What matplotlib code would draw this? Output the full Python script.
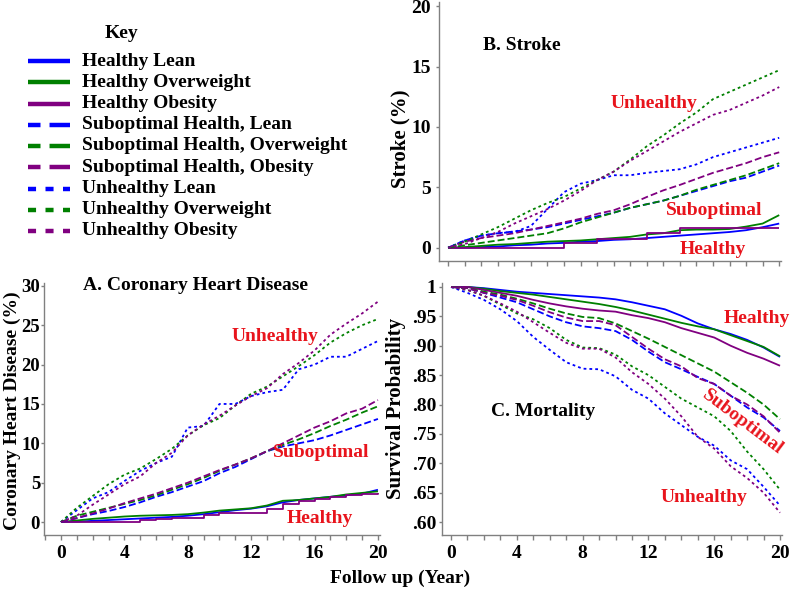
import matplotlib.pyplot as plt
from matplotlib.lines import Line2D
from matplotlib.ticker import MultipleLocator

plt.rcParams['font.family'] = ['Liberation Serif', 'DejaVu Serif']
plt.rcParams['font.weight'] = 'bold'
plt.rcParams['lines.scale_dashes'] = False

years = list(range(21))

labels = ['Healthy Lean', 'Healthy Overweight', 'Healthy Obesity',
          'Suboptimal Health, Lean', 'Suboptimal Health, Overweight', 'Suboptimal Health, Obesity',
          'Unhealthy Lean', 'Unhealthy Overweight', 'Unhealthy Obesity']
colors = ['#0000ff', '#008000', '#800080'] * 3

# A. coronary heart disease (%)
chd_healthy_lean = [0, 0.05, 0.15, 0.25, 0.35, 0.45, 0.55, 0.65, 0.8, 1.0, 1.25, 1.5, 1.7, 2.0, 2.5, 2.8, 3.0, 3.2, 3.4, 3.6, 4.1]
chd_healthy_over = [0, 0.2, 0.4, 0.55, 0.7, 0.8, 0.85, 0.9, 1.0, 1.2, 1.45, 1.6, 1.75, 2.1, 2.7, 2.8, 3.0, 3.2, 3.5, 3.7, 3.9]
chd_healthy_obes = [0, 0, 0, 0, 0, 0.2, 0.35, 0.5, 0.5, 0.85, 1.2, 1.2, 1.2, 1.6, 2.3, 2.7, 2.9, 3.2, 3.4, 3.6, 3.7]
chd_sub_lean = [0, 0.5, 1.0, 1.4, 1.9, 2.5, 3.2, 3.8, 4.5, 5.2, 6.2, 7.0, 8.0, 9.0, 9.6, 10.0, 10.4, 11.0, 11.7, 12.4, 13.1]
chd_sub_over = [0, 0.8, 1.3, 1.8, 2.3, 2.8, 3.4, 4.1, 4.8, 5.6, 6.5, 7.3, 8.1, 9.0, 9.8, 10.5, 11.3, 12.2, 13.0, 13.9, 14.7]
chd_sub_obes = [0, 0.5, 1.1, 1.7, 2.4, 3.0, 3.6, 4.3, 5.0, 5.8, 6.6, 7.3, 8.1, 9.0, 10.0, 11.0, 12.0, 12.8, 13.8, 14.4, 15.5]
chd_unh_lean = [0, 1.5, 3.0, 3.8, 5.2, 6.5, 7.5, 8.3, 12.0, 12.2, 15.0, 15.0, 16.0, 16.5, 16.8, 19.4, 20.0, 21.0, 21.0, 22.0, 23.0]
chd_unh_over = [0, 1.8, 3.3, 4.8, 6.0, 6.8, 8.0, 9.3, 11.0, 12.3, 13.2, 14.8, 16.3, 17.2, 18.5, 19.8, 21.2, 22.8, 24.0, 25.0, 25.8]
chd_unh_obes = [0, 0.8, 2.2, 3.5, 4.8, 5.8, 7.5, 8.8, 11.0, 12.4, 13.5, 14.8, 16.0, 17.0, 18.8, 20.2, 21.8, 23.8, 25.2, 26.5, 28.0]

# B. stroke (%)
stroke_healthy_lean = [0, 0, 0.05, 0.1, 0.2, 0.25, 0.35, 0.4, 0.5, 0.55, 0.65, 0.7, 0.8, 0.9, 1.0, 1.1, 1.2, 1.3, 1.45, 1.7, 2.0]
stroke_healthy_over = [0, 0.05, 0.15, 0.25, 0.3, 0.4, 0.5, 0.55, 0.6, 0.7, 0.8, 0.9, 1.1, 1.2, 1.45, 1.5, 1.5, 1.55, 1.75, 2.0, 2.7]
stroke_healthy_obes = [0, 0, 0, 0, 0, 0, 0, 0.4, 0.4, 0.75, 0.75, 0.75, 1.2, 1.2, 1.6, 1.6, 1.6, 1.6, 1.6, 1.6, 1.6]
stroke_sub_lean = [0, 0.6, 1.0, 1.2, 1.35, 1.5, 1.7, 2.0, 2.3, 2.6, 2.9, 3.3, 3.6, 3.9, 4.3, 4.7, 5.1, 5.5, 5.8, 6.3, 6.8]
stroke_sub_over = [0, 0.2, 0.4, 0.6, 0.8, 1.0, 1.2, 1.6, 2.1, 2.5, 2.9, 3.3, 3.6, 3.9, 4.3, 4.8, 5.2, 5.6, 6.0, 6.5, 7.0]
stroke_sub_obes = [0, 0.5, 0.8, 1.0, 1.2, 1.5, 1.8, 2.1, 2.4, 2.8, 3.1, 3.6, 4.2, 4.75, 5.2, 5.7, 6.2, 6.6, 7.0, 7.5, 7.9]
stroke_unh_lean = [0, 0.6, 1.0, 1.2, 1.3, 1.8, 3.2, 4.6, 5.3, 5.6, 6.0, 6.0, 6.2, 6.35, 6.5, 6.9, 7.5, 7.9, 8.3, 8.7, 9.1]
stroke_unh_over = [0, 0.5, 1.1, 1.7, 2.4, 3.1, 3.7, 4.2, 4.9, 5.6, 6.3, 7.3, 8.4, 9.3, 10.3, 11.2, 12.3, 12.9, 13.5, 14.1, 14.7]
stroke_unh_obes = [0, 0.3, 0.8, 1.3, 2.0, 2.6, 3.2, 3.9, 4.7, 5.6, 6.3, 7.2, 8.0, 8.8, 9.6, 10.3, 11.0, 11.4, 12.0, 12.6, 13.3]

# C. mortality (survival probability)
mort_healthy_lean = [1, 1, 0.998, 0.995, 0.992, 0.99, 0.988, 0.986, 0.984, 0.982, 0.979, 0.974, 0.968, 0.962, 0.951, 0.938, 0.928, 0.92, 0.91, 0.897, 0.881]
mort_healthy_over = [1, 1, 0.997, 0.993, 0.99, 0.987, 0.983, 0.979, 0.975, 0.971, 0.966, 0.96, 0.953, 0.946, 0.939, 0.933, 0.928, 0.918, 0.908, 0.898, 0.882]
mort_healthy_obes = [1, 1, 0.995, 0.99, 0.985, 0.978, 0.972, 0.967, 0.963, 0.96, 0.958, 0.952, 0.947, 0.94, 0.93, 0.922, 0.914, 0.9, 0.888, 0.878, 0.866]
mort_sub_lean = [1, 0.998, 0.99, 0.982, 0.974, 0.962, 0.95, 0.94, 0.933, 0.93, 0.925, 0.91, 0.89, 0.872, 0.86, 0.847, 0.835, 0.815, 0.795, 0.778, 0.755]
mort_sub_over = [1, 0.998, 0.992, 0.987, 0.98, 0.972, 0.963, 0.955, 0.949, 0.947, 0.938, 0.925, 0.912, 0.898, 0.884, 0.87, 0.856, 0.838, 0.82, 0.8, 0.775]
mort_sub_obes = [1, 0.998, 0.99, 0.985, 0.978, 0.968, 0.957, 0.948, 0.942, 0.942, 0.935, 0.915, 0.895, 0.877, 0.865, 0.845, 0.835, 0.815, 0.8, 0.78, 0.752]
mort_unh_lean = [1, 0.99, 0.978, 0.962, 0.942, 0.915, 0.893, 0.872, 0.861, 0.86, 0.848, 0.825, 0.81, 0.785, 0.765, 0.745, 0.73, 0.705, 0.69, 0.66, 0.628]
mort_unh_over = [1, 0.995, 0.985, 0.97, 0.955, 0.945, 0.93, 0.91, 0.897, 0.896, 0.885, 0.865, 0.85, 0.83, 0.81, 0.795, 0.78, 0.755, 0.72, 0.69, 0.655]
mort_unh_obes = [1, 0.995, 0.985, 0.972, 0.958, 0.94, 0.922, 0.905, 0.895, 0.895, 0.88, 0.855, 0.835, 0.81, 0.78, 0.745, 0.725, 0.695, 0.675, 0.65, 0.616]

chd = [chd_healthy_lean, chd_healthy_over, chd_healthy_obes, chd_sub_lean, chd_sub_over,
       chd_sub_obes, chd_unh_lean, chd_unh_over, chd_unh_obes]
stroke = [stroke_healthy_lean, stroke_healthy_over, stroke_healthy_obes, stroke_sub_lean, stroke_sub_over,
          stroke_sub_obes, stroke_unh_lean, stroke_unh_over, stroke_unh_obes]
mort = [mort_healthy_lean, mort_healthy_over, mort_healthy_obes, mort_sub_lean, mort_sub_over,
        mort_sub_obes, mort_unh_lean, mort_unh_over, mort_unh_obes]

plot_styles = ['-'] * 3 + [(0, (5, 2.2))] * 3 + [(0, (2, 2.2))] * 3
key_styles = ['-'] * 3 + [(6, (15, 6.5))] * 3 + [(0, (5.8, 6.8))] * 3
RED = '#e8141c'
GREY = '#808080'

fig = plt.figure(figsize=(8, 5.94), dpi=100)


def draw(ax, data, steps=()):
    for i, vals in enumerate(data):
        ds = 'steps-post' if i in steps else 'default'
        ax.plot(years, vals, color=colors[i], linestyle=plot_styles[i], lw=1.3,
                drawstyle=ds, solid_capstyle='butt')


def style(ax, ypad=2, ysize=14):
    for s in ['top', 'right']:
        ax.spines[s].set_visible(False)
    for s in ['left', 'bottom']:
        ax.spines[s].set_color(GREY)
        ax.spines[s].set_linewidth(1.0)
    ax.tick_params(which='both', colors=GREY, labelcolor='black', labelsize=14,
                   direction='out', length=3.5, width=1)
    ax.tick_params(axis='y', length=2.5, pad=ypad, labelsize=ysize)
    ax.tick_params(axis='x', pad=4)


# panel A
axA = fig.add_axes([0.055, 0.0993, 0.42, 0.4243])
draw(axA, chd, steps=(2,))
style(axA, ypad=0.3, ysize=13.5)
axA.set_xlim(-1.07, 20.13)
axA.set_ylim(-1.65, 30.37)
axA.set_xticks([0, 4, 8, 12, 16, 20])
axA.xaxis.set_minor_locator(MultipleLocator(1))
axA.set_yticks([0, 5, 10, 15, 20, 25, 30])
axA.text(1.4, 30.1, 'A. Coronary Heart Disease', fontsize=14, va='center', ha='left')
axA.text(13.5, 23.6, 'Unhealthy', color=RED, fontsize=14, ha='center', va='center')
axA.text(16.4, 8.8, 'Suboptimal', color=RED, fontsize=14, ha='center', va='center')
axA.text(16.3, 0.5, 'Healthy', color=RED, fontsize=14, ha='center', va='center')

# panel B
axB = fig.add_axes([0.549, 0.5606, 0.4275, 0.436])
draw(axB, stroke, steps=(2,))
style(axB, ypad=3.5)
axB.set_xlim(-0.54, 20.12)
axB.set_ylim(-1.1, 20.34)
axB.set_xticks(range(21))
axB.set_xticklabels([])
axB.set_yticks([0, 5, 10, 15, 20])
axB.text(2.1, 16.7, 'B. Stroke', fontsize=14, va='center', ha='left')
axB.text(12.45, 11.95, 'Unhealthy', color=RED, fontsize=14, ha='center', va='center')
axB.text(16.1, 3.05, 'Suboptimal', color=RED, fontsize=14, ha='center', va='center')
axB.text(16.0, -0.17, 'Healthy', color=RED, fontsize=14, ha='center', va='center', clip_on=False)

# panel C
axC = fig.add_axes([0.5525, 0.0993, 0.425, 0.4243])
draw(axC, mort)
style(axC, ypad=1.8)
axC.set_xlim(-0.55, 20.12)
axC.set_ylim(0.578, 1.0068)
axC.set_xticks([0, 4, 8, 12, 16, 20])
axC.xaxis.set_minor_locator(MultipleLocator(1))
yt = [0.60, 0.65, 0.70, 0.75, 0.80, 0.85, 0.90, 0.95, 1.0]
axC.set_yticks(yt)
axC.set_yticklabels(['.60', '.65', '.70', '.75', '.80', '.85', '.90', '.95', '1'])
axC.text(2.4, 0.788, 'C. Mortality', fontsize=14, va='center', ha='left')
axC.text(18.6, 0.947, 'Healthy', color=RED, fontsize=14, ha='center', va='center', clip_on=False)
axC.text(17.7, 0.770, 'Suboptimal', color=RED, fontsize=14, ha='center', va='center',
         rotation=-37, rotation_mode='anchor')
axC.text(15.4, 0.641, 'Unhealthy', color=RED, fontsize=14, ha='center', va='center')

# axis titles
fig.text(12 / 800, 1 - 411 / 594, 'Coronary Heart Disease (%)', rotation=90, fontsize=14,
         ha='center', va='center')
fig.text(400 / 800, 1 - 139 / 594, 'Stroke (%)', rotation=90, fontsize=15, ha='center', va='center')
fig.text(396 / 800, 1 - 408 / 594, 'Survival Probability', rotation=90, fontsize=15,
         ha='center', va='center')
fig.text(400 / 800, 1 - 578 / 594, 'Follow up (Year)', fontsize=14, ha='center', va='center')

# key
fig.text(121 / 800, 1 - 33 / 594, 'Key', fontsize=14, ha='center', va='center')
for i, lab in enumerate(labels):
    yy = 1 - (61 + 21.25 * i) / 594
    fig.add_artist(Line2D([28 / 800, 70 / 800], [yy, yy], color=colors[i], lw=3.2,
                          linestyle=key_styles[i], solid_capstyle='butt', dash_capstyle='butt'))
    fig.text(82 / 800, yy, lab, fontsize=14, ha='left', va='center')

fig.savefig('out.png', dpi=100)
